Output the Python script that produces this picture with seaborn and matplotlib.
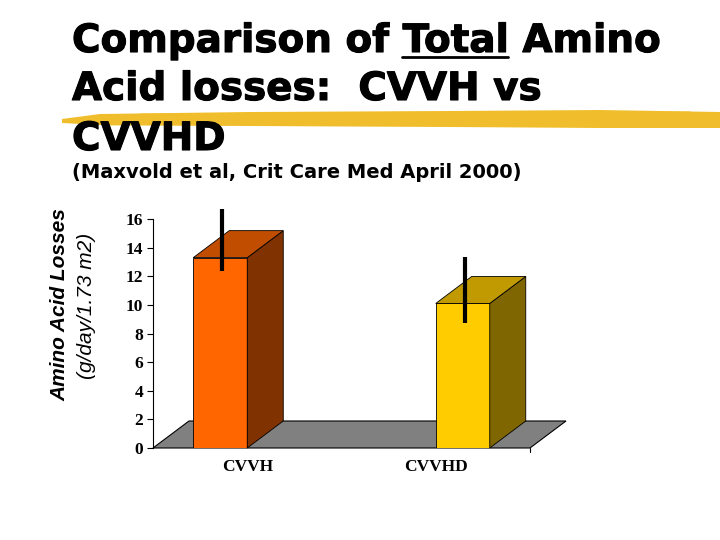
import matplotlib
matplotlib.use('Agg')
import matplotlib.pyplot as plt
import matplotlib.patheffects as pe
from matplotlib.patches import Polygon
import pandas as pd
import seaborn as sns

# values
groups = ['CVVH', 'CVVHD']
losses = [13.3, 10.1]
err_low = [12.4, 8.7]
err_high = [16.7, 13.35]
y_ticks = [0, 2, 4, 6, 8, 10, 12, 14, 16]

front_colors = ['#FF6600', '#FFCC00']
top_colors = ['#C04D00', '#C09A00']
side_colors = ['#803300', '#806600']

sns.set_style('white')
plt.rcParams.update({'text.color': 'black', 'axes.labelcolor': 'black',
                     'xtick.color': 'black', 'ytick.color': 'black'})

W, H = 720, 540
fig = plt.figure(figsize=(7.2, 5.4), dpi=100)


def fx(px):
    return px / W


def fy(py):
    return 1 - py / H


# yellow highlighter stroke behind the title
upper = [(62, 119), (100, 114), (250, 112), (450, 111), (600, 110), (720, 112)]
lower = [(720, 128), (600, 128), (450, 127), (250, 126), (100, 125), (62, 123)]
stroke = Polygon([(fx(x), fy(y)) for x, y in upper + lower], closed=True,
                 transform=fig.transFigure, facecolor='#F0BE2C', edgecolor='none', zorder=0)
fig.patches.append(stroke)
for (x0, y0, x1, y1), c in zip([(90, 117, 700, 115), (70, 122, 715, 121), (140, 114, 690, 112),
                                (110, 125, 705, 126), (300, 119, 640, 118)],
                               ['#F7D35A', '#E2A81C', '#F5CC48', '#F9DC78', '#E8B426']):
    fig.lines.append(plt.Line2D([fx(x0), fx(x1)], [fy(y0), fy(y1)], transform=fig.transFigure,
                                color=c, lw=1.0, alpha=0.8, zorder=0))

title_kw = dict(family='DejaVu Sans', weight='bold', size=28, color='black', va='baseline',
                path_effects=[pe.withStroke(linewidth=0.8, foreground='black')])
fig.text(fx(72), fy(52), 'Comparison of Total Amino', **title_kw)
fig.text(fx(72), fy(100), 'Acid losses:  CVVH vs', **title_kw)
fig.text(fx(72), fy(150), 'CVVHD', **title_kw)

# underline "Total"
renderer = fig.canvas.get_renderer()
probe_a = fig.text(fx(72), fy(52), 'Comparison of Total', **title_kw)
probe_b = fig.text(fx(72), fy(52), 'Total', **title_kw)
end_px = probe_a.get_window_extent(renderer).x1
len_px = probe_b.get_window_extent(renderer).width
probe_a.remove()
probe_b.remove()
fig.lines.append(plt.Line2D([(end_px - len_px) / W, end_px / W], [fy(57), fy(57)],
                            transform=fig.transFigure, color='black', lw=2))

fig.text(fx(72), fy(178), '(Maxvold et al, Crit Care Med April 2000)', family='DejaVu Sans',
         weight='bold', size=14, va='baseline', color='black')

fig.text(fx(60), fy(305), 'Amino Acid Losses', family='Liberation Sans', weight='bold',
         style='italic', size=15, rotation=90, ha='center', va='center', color='black')
fig.text(fx(86), fy(306), '(g/day/1.73 m2)', family='Liberation Sans', style='italic',
         size=15, rotation=90, ha='center', va='center', color='black')

ax = fig.add_axes([fx(153), fy(448), (530 - 153) / W, (448 - 219) / H])
df = pd.DataFrame({'group': groups, 'loss': losses})
sns.barplot(data=df, x='group', y='loss', hue='group', order=groups, hue_order=groups,
            palette=front_colors, dodge=True, width=0.573, saturation=1, errorbar=None,
            legend=False, edgecolor='black', linewidth=0.6, zorder=3, ax=ax)
bars = sorted(ax.patches, key=lambda p: p.get_x())

ax.set_xlim(-0.5, 1.5)
ax.set_ylim(0, 16)
dx, dy = 0.191, 1.887  # depth of the 3-D look, in data units

floor = Polygon([(-0.5, 0), (1.5, 0), (1.5 + dx, dy), (-0.5 + dx, dy)], closed=True,
                facecolor='#808080', edgecolor='black', lw=0.8, zorder=1, clip_on=False)
ax.add_patch(floor)
ax.plot([1.5, 1.5], [0, -0.25], color='black', lw=0.8, clip_on=False)

for i, bar in enumerate(bars):
    x0 = bar.get_x()
    x1 = x0 + bar.get_width()
    h = bar.get_height()
    side = Polygon([(x1, 0), (x1, h), (x1 + dx, h + dy), (x1 + dx, dy)], closed=True,
                   facecolor=side_colors[i], edgecolor='black', lw=0.6, zorder=4, clip_on=False)
    top = Polygon([(x0, h), (x1, h), (x1 + dx, h + dy), (x0 + dx, h + dy)], closed=True,
                  facecolor=top_colors[i], edgecolor='black', lw=0.6, zorder=4, clip_on=False)
    ax.add_patch(side)
    ax.add_patch(top)
    cx = (x0 + x1) / 2 + 0.01
    ax.vlines(cx, err_low[i], err_high[i], color='black', lw=3, zorder=6, clip_on=False)

ax.set_yticks(y_ticks)
ax.set_xlabel('')
ax.set_ylabel('')
ax.tick_params(axis='y', left=True, length=4, width=0.8, pad=3, labelsize=12.5,
               color='black', labelcolor='black')
ax.tick_params(axis='x', length=0, pad=8, labelsize=12.5, labelcolor='black')
for lab in ax.get_xticklabels() + ax.get_yticklabels():
    lab.set_fontfamily('Liberation Serif')
    lab.set_fontweight('bold')
sns.despine(ax=ax, bottom=True)
ax.spines['left'].set_color('black')
ax.spines['left'].set_linewidth(0.8)
ax.set_facecolor('none')

fig.savefig('out.png', dpi=100, facecolor='white')
